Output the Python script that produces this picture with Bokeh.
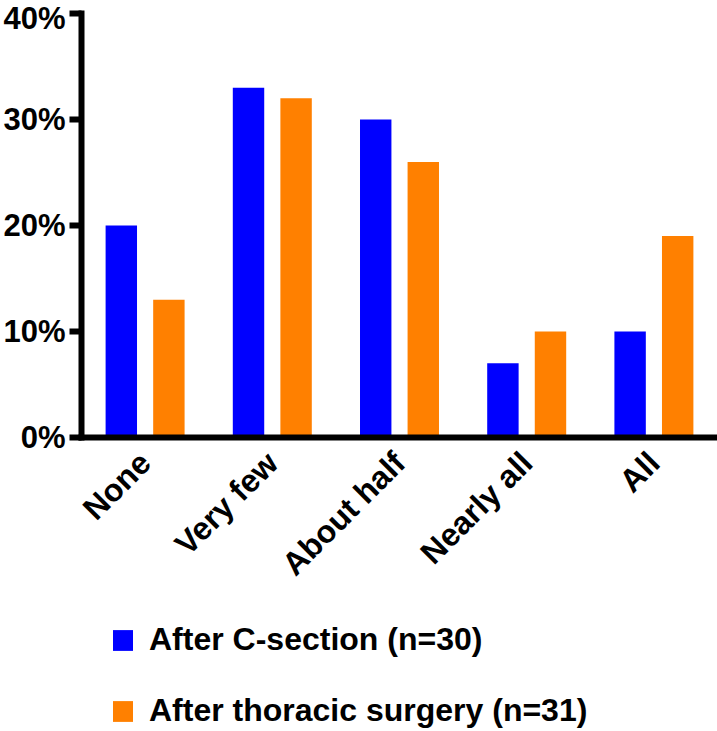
from math import pi
from bokeh.plotting import figure
from bokeh.layouts import column
from bokeh.models import (ColumnDataSource, FactorRange, Range1d, FixedTicker,
                          PrintfTickFormatter, Legend, LegendItem)
from bokeh.transform import dodge
from bokeh.embed import file_html
from bokeh.resources import INLINE

categories = ["None", "Very few", "About half", "Nearly all", "All"]
c_section = [20, 33, 30, 7, 10]
thoracic = [13, 32, 26, 10, 19]
y_ticks = [0, 10, 20, 30, 40]
series_labels = ["After C-section (n=30)", "After thoracic surgery (n=31)"]
colors = ["#0000FF", "#FF8000"]

FONT = "Liberation Sans"

src = ColumnDataSource(dict(cat=categories, a=c_section, b=thoracic))

W = 717
H1 = 610
p = figure(width=W, height=H1,
           x_range=FactorRange(factors=categories, range_padding=0),
           y_range=Range1d(0, 40),
           output_backend="svg", toolbar_location=None,
           min_border_top=13, min_border_bottom=H1 - 437,
           min_border_left=0, min_border_right=0)
p.outline_line_color = None
p.xgrid.grid_line_color = None
p.ygrid.grid_line_color = None
p.background_fill_color = "white"
p.border_fill_color = "white"

r1 = p.vbar(x=dodge("cat", -0.187, range=p.x_range), top="a", width=0.247,
            source=src, fill_color=colors[0], line_color=None)
r2 = p.vbar(x=dodge("cat", 0.187, range=p.x_range), top="b", width=0.247,
            source=src, fill_color=colors[1], line_color=None)

# y axis
ya = p.yaxis[0]
ya.ticker = FixedTicker(ticks=y_ticks)
ya.formatter = PrintfTickFormatter(format="%d%%")
ya.axis_line_width = 6
ya.axis_line_color = "black"
ya.axis_line_cap = "square"
ya.major_tick_line_width = 6
ya.major_tick_line_color = "black"
ya.major_tick_out = 12
ya.major_tick_in = 0
ya.minor_tick_line_color = None
ya.major_label_standoff = 4
ya.major_label_text_font = FONT
ya.major_label_text_font_style = "bold"
ya.major_label_text_font_size = "31px"
ya.major_label_text_color = "black"

# x axis
xa = p.xaxis[0]
xa.axis_line_width = 6
xa.axis_line_color = "black"
xa.axis_line_cap = "square"
xa.major_tick_line_color = None
xa.major_tick_out = 0
xa.major_tick_in = 0
xa.minor_tick_line_color = None
xa.major_label_orientation = pi / 4
xa.major_label_standoff = 20
xa.major_label_text_font = FONT
xa.major_label_text_font_style = "bold"
xa.major_label_text_font_size = "32px"
xa.major_label_text_color = "black"

# legend figure below the chart (hidden renderers only provide the swatches)
H2 = 120
p2 = figure(width=W, height=H2,
            x_range=FactorRange(factors=categories, range_padding=0),
            y_range=Range1d(0, 40),
            x_axis_type=None, y_axis_type=None,
            output_backend="svg", toolbar_location=None,
            min_border=0)
p2.outline_line_color = None
p2.xgrid.grid_line_color = None
p2.ygrid.grid_line_color = None
p2.background_fill_color = "white"
p2.border_fill_color = "white"
g1 = p2.vbar(x=dodge("cat", -0.187, range=p2.x_range), top="a", width=0.247,
             source=src, fill_color=colors[0], line_color=None, visible=False)
g2 = p2.vbar(x=dodge("cat", 0.187, range=p2.x_range), top="b", width=0.247,
             source=src, fill_color=colors[1], line_color=None, visible=False)

legend = Legend(items=[LegendItem(label=series_labels[0], renderers=[g1]),
                       LegendItem(label=series_labels[1], renderers=[g2])],
                location=(29, 1), orientation="vertical",
                glyph_width=25, glyph_height=26, label_height=26,
                label_standoff=14, spacing=34, padding=0, margin=0,
                border_line_color=None, background_fill_alpha=0,
                inactive_fill_alpha=0,
                label_text_font=FONT, label_text_font_style="bold",
                label_text_font_size="32px", label_text_color="black",
                label_text_baseline="middle")
p2.add_layout(legend, "center")

layout = column(p, p2, spacing=0)
open("out.html", "w").write(file_html(layout, INLINE))
